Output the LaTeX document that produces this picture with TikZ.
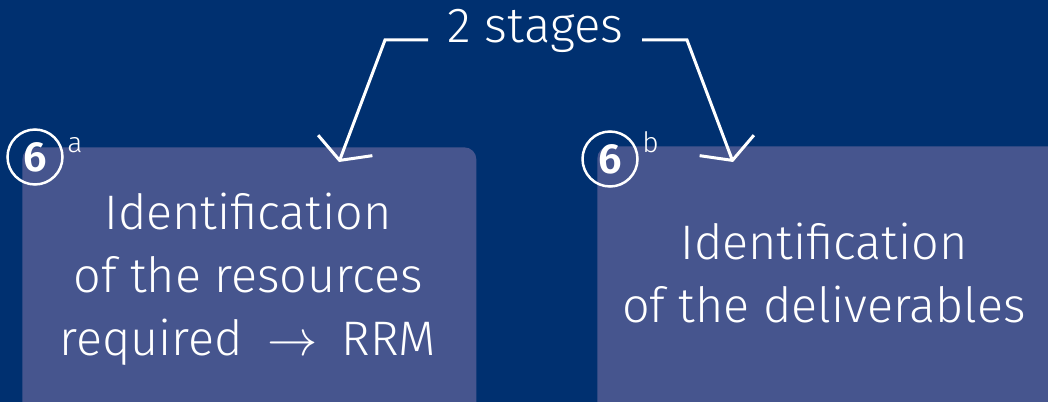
\documentclass[tikz,border=0pt]{standalone}
\usepackage{fontspec}
\setmainfont{Fira Sans}[UprightFont={* Light}, BoldFont={* SemiBold}]
\usetikzlibrary{arrows.meta}
\definecolor{navy}{RGB}{0,48,112}
\definecolor{panel}{RGB}{70,85,142}
\tikzset{
  panelbox/.style={fill=panel, rounded corners=0.24cm, inner sep=0pt, anchor=north west},
  bigtext/.style={text=white, align=center, anchor=base, inner sep=0pt,
    font=\fontsize{27.6}{35.8}\selectfont},
  stepmark/.style={circle, draw=white, line width=0.05cm, text=white,
    minimum size=1.1cm, inner sep=0pt, font=\fontsize{24}{25}\selectfont\bfseries},
  suffix/.style={text=white, anchor=base west, inner sep=0pt, font=\fontsize{16}{18}\selectfont},
  link/.style={draw=white, line width=0.06cm, line join=miter,
    -{Straight Barb[length=0.32cm, width=1.16cm]}}
}
\begin{document}
\begin{tikzpicture}[x=0.02cm, y=-0.02cm]
  \fill[navy] (0,0) rectangle (1048,402);
  \useasboundingbox (0,0) rectangle (1048,402);
  \clip (0,0) rectangle (1048,402);

  % the two stage panels
  \node[panelbox, minimum width=454*0.02cm, minimum height=280*0.02cm] (boxA) at (22,147) {};
  \node[panelbox, minimum width=470*0.02cm, minimum height=280*0.02cm] (boxB) at (597,146) {};

  % panel texts (anchored on the baseline of their last line)
  \node[bigtext] (textA) at (248,355) {Identification\\of the resources\\required\hspace{0.22em} \scalebox{1.15}{$\rightarrow$} \hspace{0.22em}RRM};
  \node[bigtext] (textB) at (824,322) {Identification\\of the deliverables};

  % numbered markers
  \node[stepmark] (markA) at (35,157) {6};
  \node[suffix] (supA) at (67,153) {a};
  \node[stepmark] (markB) at (610,159) {6};
  \node[suffix] (supB) at (642,153) {b};

  % heading and its two connectors
  \node[text=white, anchor=base, inner sep=0pt, font=\fontsize{28}{34}\selectfont] (stages) at (535.5,43) {2 stages};
  \coordinate (lstart) at (428,40);
  \coordinate (lbend) at (385,40);
  \coordinate (ltip) at (339,162);
  \coordinate (rstart) at (642,40);
  \coordinate (rbend) at (687,40);
  \coordinate (rtip) at (733,162);
  \draw[link] (lstart) -- (lbend) -- (ltip);
  \draw[link] (rstart) -- (rbend) -- (rtip);
\end{tikzpicture}
\end{document}
